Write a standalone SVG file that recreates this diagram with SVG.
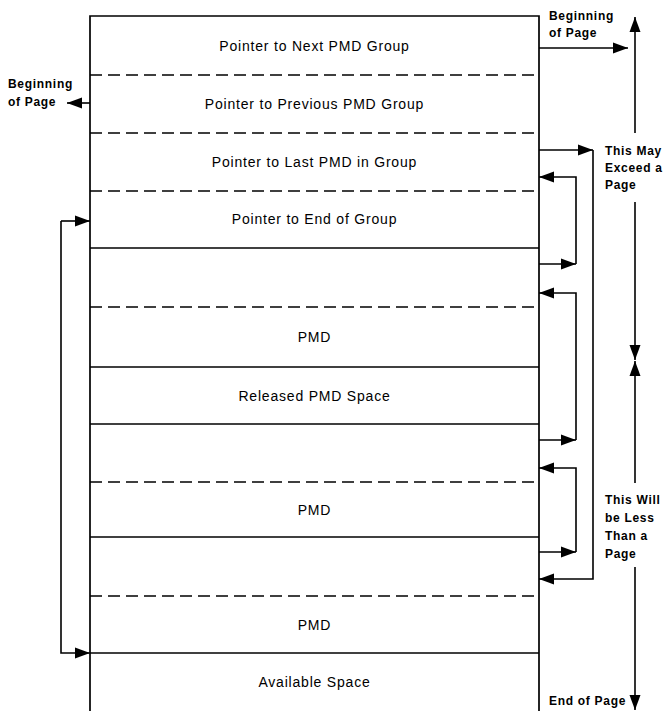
<svg xmlns="http://www.w3.org/2000/svg" width="667" height="711" viewBox="0 0 667 711">
<style>
.bg{fill:#ffffff}
.solid{stroke:#000;stroke-width:1.7;fill:none}
.dash{stroke:#000;stroke-width:1.5;fill:none;stroke-dasharray:12 6}
.conn{stroke:#000;stroke-width:1.6;fill:none}
.arr{marker-end:url(#ah)}
.lbl{font-family:"Liberation Sans",Arial,sans-serif;font-size:14px;letter-spacing:0.8px;text-anchor:middle;fill:#000}
.side{font-family:"Liberation Sans",Arial,sans-serif;font-size:12px;font-weight:bold;letter-spacing:0.7px;fill:#000}
</style>
<defs>
<marker id="ah" markerUnits="userSpaceOnUse" markerWidth="16" markerHeight="12" viewBox="0 0 16 12" refX="15" refY="6" orient="auto">
<path d="M0,0.5 L15,6 L0,11.5 Z" fill="#000"/>
</marker>
</defs>
<rect class="bg" x="0" y="0" width="667" height="711"/>

<g id="frame">
<path class="solid" d="M90,711 L90,16 L539,16 L539,711"/>
</g>

<g id="row-next">
<text class="lbl" x="314.5" y="51">Pointer to Next PMD Group</text>
</g>
<g id="row-prev">
<line class="dash" x1="90" y1="75" x2="539" y2="75"/>
<text class="lbl" x="314.5" y="109">Pointer to Previous PMD Group</text>
</g>
<g id="row-last">
<line class="dash" x1="90" y1="133" x2="539" y2="133"/>
<text class="lbl" x="314.5" y="167">Pointer to Last PMD in Group</text>
</g>
<g id="row-end">
<line class="dash" x1="90" y1="191" x2="539" y2="191"/>
<text class="lbl" x="314.5" y="224">Pointer to End of Group</text>
</g>
<g id="pmd1">
<line class="solid" x1="90" y1="248" x2="539" y2="248"/>
<line class="dash" x1="90" y1="307" x2="539" y2="307"/>
<text class="lbl" x="314.5" y="342">PMD</text>
</g>
<g id="released">
<line class="solid" x1="90" y1="367" x2="539" y2="367"/>
<text class="lbl" x="314.5" y="401">Released PMD Space</text>
</g>
<g id="pmd2">
<line class="solid" x1="90" y1="424" x2="539" y2="424"/>
<line class="dash" x1="90" y1="482" x2="539" y2="482"/>
<text class="lbl" x="314.5" y="515">PMD</text>
</g>
<g id="pmd3">
<line class="solid" x1="90" y1="537" x2="539" y2="537"/>
<line class="dash" x1="90" y1="596" x2="539" y2="596"/>
<text class="lbl" x="314.5" y="630">PMD</text>
</g>
<g id="available">
<line class="solid" x1="90" y1="653" x2="539" y2="653"/>
<text class="lbl" x="314.5" y="687">Available Space</text>
</g>

<g id="labels">
<text class="side" x="549" y="20">Beginning</text>
<text class="side" x="549" y="37">of Page</text>
<text class="side" x="8" y="88">Beginning</text>
<text class="side" x="8" y="106">of Page</text>
<text class="side" x="605" y="155">This May</text>
<text class="side" x="605" y="172">Exceed a</text>
<text class="side" x="605" y="189">Page</text>
<text class="side" x="605" y="504">This Will</text>
<text class="side" x="605" y="522">be Less</text>
<text class="side" x="605" y="540">Than a</text>
<text class="side" x="605" y="558">Page</text>
<text class="side" x="549" y="705">End of Page</text>
</g>

<g id="connectors">
<path class="conn arr" d="M539,48 L628,48"/>
<path class="conn arr" d="M90,103 L67,103"/>
<path class="conn arr" d="M539,150 L593,150"/>
<path class="conn arr" d="M593,150 L593,579 L539,579"/>
<path class="conn arr" d="M539,264 L576,264"/>
<path class="conn arr" d="M576,264 L576,177 L539,177"/>
<path class="conn arr" d="M539,440 L576,440"/>
<path class="conn arr" d="M576,440 L576,293 L539,293"/>
<path class="conn arr" d="M539,552 L576,552"/>
<path class="conn arr" d="M576,552 L576,468 L539,468"/>
<path class="conn arr" d="M61,221 L90,221"/>
<path class="conn arr" d="M61,221 L61,653 L90,653"/>
<path class="conn arr" d="M635,133 L635,17"/>
<path class="conn arr" d="M635,202 L635,360"/>
<path class="conn arr" d="M635,483 L635,361"/>
<path class="conn arr" d="M635,567 L635,710"/>
</g>
</svg>
